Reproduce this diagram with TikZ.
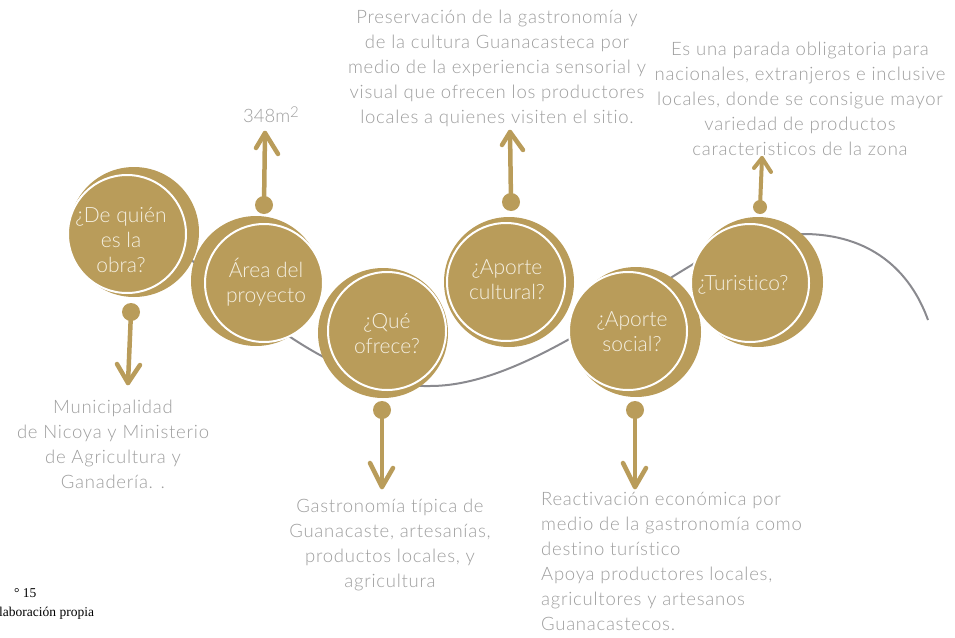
\documentclass[tikz,border=0pt]{standalone}
\usepackage{fontspec}
\setmainfont{Lato Light}[Ligatures={NoCommon}]
\newfontfamily\labelfont{Lato Light}[Ligatures={NoCommon}, LetterSpace=4]
\newfontfamily\capfont{Liberation Serif}
\definecolor{gold}{RGB}{185,156,90}
\definecolor{cream}{RGB}{245,240,226}
\definecolor{txtgray}{RGB}{158,158,158}
\definecolor{linegray}{RGB}{138,138,143}
\begin{document}
\begin{tikzpicture}[x=1pt,y=-1pt,
  backdisc/.style={circle, fill=gold, draw=none, minimum size=130pt, inner sep=0, outer sep=0},
  frontdisc/.style={circle, fill=gold, draw=white, line width=2pt, minimum size=118pt, inner sep=0, outer sep=0},
  bubbletext/.style={text=cream, align=center, font=\fontsize{21}{25}\selectfont, inner sep=0},
  labeltext/.style={text=txtgray, align=center, font=\labelfont\fontsize{18.5}{25}\selectfont, inner sep=0},
  shaft/.style={draw=gold, line width=4.5pt, line cap=round, line join=round},
  knob/.style={circle, fill=gold, minimum size=18pt, inner sep=0, outer sep=0},
  wave/.style={draw=linegray, line width=2pt},
  captext/.style={font=\capfont\fontsize{13.5}{15}\selectfont, inner sep=0, anchor=base west}
]
\useasboundingbox (0,0) rectangle (955,637);

% wave line behind the bubbles
\coordinate (w0) at (150,225);
\coordinate (w4) at (928,320);
\draw[wave] (w0) .. controls (240,300) and (330,388) .. (430,386)
  .. controls (510,386) and (600,320) .. (695,263)
  .. controls (730,246) and (770,234) .. (803,234)
  .. controls (870,234) and (910,270) .. (w4);

% bubbles
\node[backdisc] (b1) at (134,232) {};
\node[frontdisc] (f1) at (127,234) {};
\node[bubbletext] (t1) at (121,240) {¿De quién\\es la\\obra?};

\node[backdisc] (b2) at (256,281) {};
\node[frontdisc] (f2) at (264,283) {};
\node[bubbletext] (t2) at (266,282) {Área del\\proyecto};

\node[backdisc] (b3) at (383,333) {};
\node[frontdisc] (f3) at (387,331) {};
\node[bubbletext] (t3) at (387,334) {¿Qué\\ofrece?};

\node[backdisc] (b4) at (509,282) {};
\node[frontdisc] (f4) at (506,282) {};
\node[bubbletext] (t4) at (507,280) {¿Aporte\\cultural?};

\node[backdisc] (b5) at (636,332) {};
\node[frontdisc] (f5) at (628,331) {};
\node[bubbletext] (t5) at (632,332) {¿Aporte\\social?};

\node[backdisc] (b6) at (758,282) {};
\node[frontdisc] (f6) at (750,283) {};
\node[bubbletext] (t6) at (743,285) {¿Turistico?};

% arrows
\node[knob] (k1) at (131,312) {};
\coordinate (h1) at (128,383);
\draw[shaft] (k1.center) -- (h1);
\draw[shaft] (h1) ++(-11,-19) -- (h1) -- ++(12,-18);

\node[knob] (k2) at (264,205) {};
\coordinate (h2) at (265,133);
\draw[shaft] (k2.center) -- (h2);
\draw[shaft] (h2) ++(-9,15) -- (h2) -- ++(13,21);

\node[knob] (k3) at (382,410) {};
\coordinate (h3) at (382,487);
\draw[shaft] (k3.center) -- (h3);
\draw[shaft] (h3) ++(-12,-24) -- (h3) -- ++(11,-19);

\node[knob] (k4) at (511,202) {};
\coordinate (h4) at (510,132);
\draw[shaft] (k4.center) -- (h4);
\draw[shaft] (h4) ++(-8,13) -- (h4) -- ++(13,18);

\node[knob] (k5) at (635,410) {};
\coordinate (h5) at (635,487);
\draw[shaft] (k5.center) -- (h5);
\draw[shaft] (h5) ++(-12,-24) -- (h5) -- ++(11,-19);

\node[knob, minimum size=14pt] (k6) at (760,207) {};
\coordinate (h6) at (762,158);
\draw[shaft, line width=4pt] (k6.center) -- (h6);
\draw[shaft, line width=4pt] (h6) ++(-8,10) -- (h6) -- ++(9,14);

% labels
\node[labeltext] (l1) at (113,444) {Municipalidad\\de Nicoya y Ministerio\\de Agricultura y\\Ganadería. .};
\node[labeltext, font=\fontsize{18.5}{25}\selectfont] (l2) at (271,115) {348m\raisebox{0.55ex}{\fontsize{15}{15}\selectfont 2}};
\node[labeltext] (l3) at (390,545) {Gastronomía típica de\\Guanacaste, artesanías,\\productos locales, y\\agricultura};
\node[labeltext] (l4) at (497,68) {Preservación de la gastronomía y\\de la cultura Guanacasteca por\\medio de la experiencia sensorial y\\visual que ofrecen los productores\\locales a quienes visiten el sitio.};
\node[labeltext] (l6) at (800,99) {Es una parada obligatoria para\\nacionales, extranjeros e inclusive\\locales, donde se consigue mayor\\variedad de productos\\caracteristicos de la zona};
\node[labeltext, align=left, anchor=west] (l5) at (541,561) {Reactivación económica por\\medio de la gastronomía como\\destino turístico\\Apoya productores locales,\\agricultores y artesanos\\Guanacastecos.};

% caption (cut at the left edge)
\node[captext] (c1) at (14,597) {° 15};
\node[captext] (c2) at (-1,616) {laboración propia};
\end{tikzpicture}
\end{document}
